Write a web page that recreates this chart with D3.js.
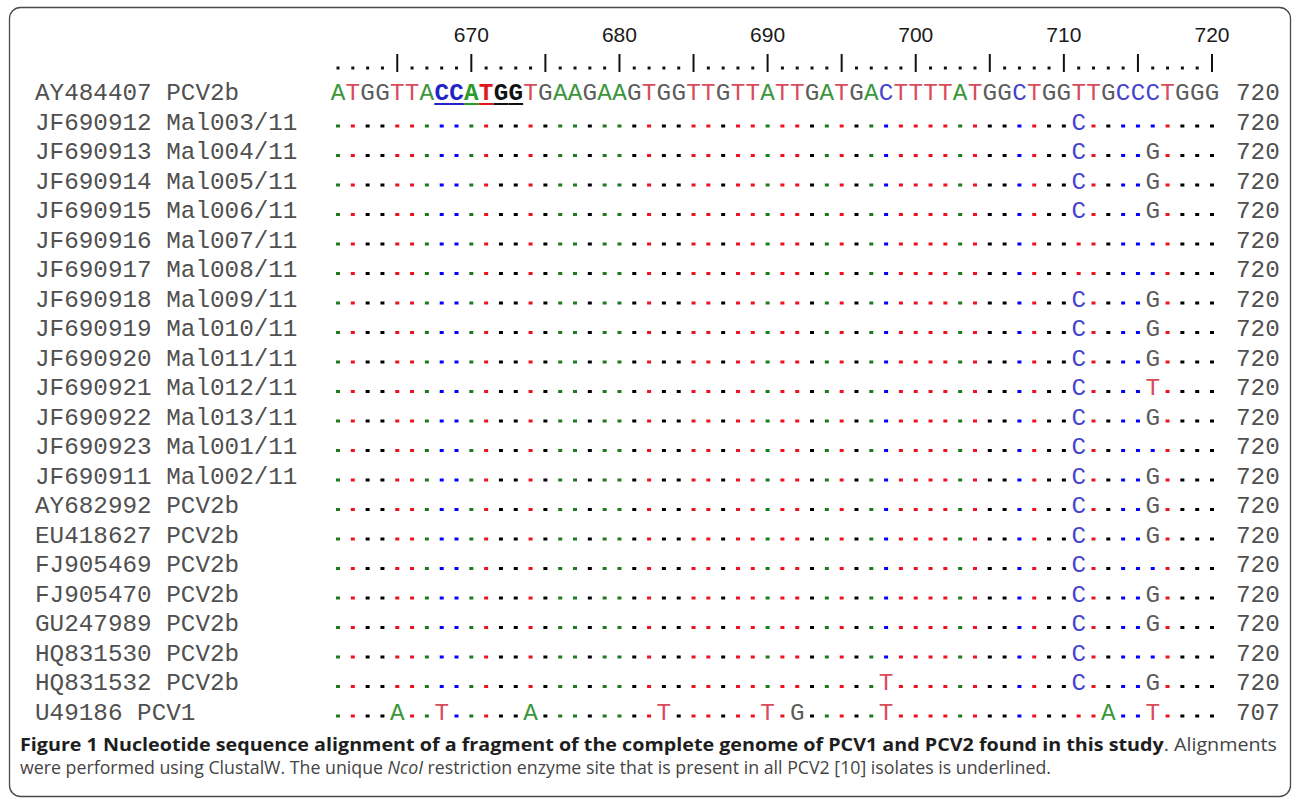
<!DOCTYPE html>
<html>
<head>
<meta charset="utf-8">
<script src="https://cdn.jsdelivr.net/npm/d3@7"></script>
<style>
  body { margin: 0; background: #fff; }
  svg { display: block; }
</style>
</head>
<body>
<div id="chart"></div>
<script>
  var width = 1293;
  var height = 799;

// alignment data
var firstPos = 661;
var lastPos = 720;
var refSeq = "ATGGTTACCATGGTGAAGAAGTGGTTGTTATTGATGACTTTTATGGCTGGTTGCCCTGGG";
var ncoSite = [668, 673]; // CCATGG, underlined

var labels = [
  "AY484407 PCV2b",
  "JF690912 Mal003/11",
  "JF690913 Mal004/11",
  "JF690914 Mal005/11",
  "JF690915 Mal006/11",
  "JF690916 Mal007/11",
  "JF690917 Mal008/11",
  "JF690918 Mal009/11",
  "JF690919 Mal010/11",
  "JF690920 Mal011/11",
  "JF690921 Mal012/11",
  "JF690922 Mal013/11",
  "JF690923 Mal001/11",
  "JF690911 Mal002/11",
  "AY682992 PCV2b",
  "EU418627 PCV2b",
  "FJ905469 PCV2b",
  "FJ905470 PCV2b",
  "GU247989 PCV2b",
  "HQ831530 PCV2b",
  "HQ831532 PCV2b",
  "U49186 PCV1"
];

// substitutions vs. the reference, [position, base]
var variants = [
  [],
  [[711, "C"]],
  [[711, "C"], [716, "G"]],
  [[711, "C"], [716, "G"]],
  [[711, "C"], [716, "G"]],
  [],
  [],
  [[711, "C"], [716, "G"]],
  [[711, "C"], [716, "G"]],
  [[711, "C"], [716, "G"]],
  [[711, "C"], [716, "T"]],
  [[711, "C"], [716, "G"]],
  [[711, "C"]],
  [[711, "C"], [716, "G"]],
  [[711, "C"], [716, "G"]],
  [[711, "C"], [716, "G"]],
  [[711, "C"]],
  [[711, "C"], [716, "G"]],
  [[711, "C"], [716, "G"]],
  [[711, "C"]],
  [[698, "T"], [711, "C"], [716, "G"]],
  [[665, "A"], [668, "T"], [674, "A"], [683, "T"], [690, "T"], [692, "G"], [698, "T"], [713, "A"], [716, "T"]]
];

var endNumbers = [720, 720, 720, 720, 720, 720, 720, 720, 720, 720, 720,
                  720, 720, 720, 720, 720, 720, 720, 720, 720, 720, 707];

var rulerLabels = [670, 680, 690, 700, 710, 720];


var draw_alignment = function(){

  var monoFont = "'Courier New', 'Liberation Mono', monospace";
  var letterColor = {A: "#3b963b", T: "#d94a5a", G: "#5c5c5c", C: "#4444cc"};
  var dotColor = {A: "#1f7a1f", T: "#f01020", G: "#000000", C: "#0000ff"};
  var boldColor = {A: "#2a9a2a", T: "#e01818", G: "#111111", C: "#2323c8"};

  var positions = d3.range(firstPos, lastPos + 1);
  var refBase = function(p){ return refSeq.charAt(p - firstPos); };

  var x = d3.scaleLinear().domain([firstPos, lastPos]).range([338, 1212]);
  // baseline of each row
  var y = d3.scaleLinear().domain([0, labels.length - 1]).range([100, 719.5]);

  var svg = d3.select("#chart").append("svg")
    .attr("width", width)
    .attr("height", height)
    .attr("viewBox", "0 0 " + width + " " + height);

  // frame round the figure
  svg.append("rect")
    .attr("x", 9.5).attr("y", 7.5)
    .attr("width", 1281).attr("height", 789)
    .attr("rx", 11).attr("ry", 11)
    .attr("fill", "none")
    .attr("stroke", "#4a4a4a")
    .attr("stroke-width", 1.3);

  // ruler: dots, bars every 5, numbers every 10
  var ruler = svg.append("g").attr("class", "ruler");
  ruler.selectAll("rect.tickdot")
    .data(positions.filter(function(p){ return p % 5 != 0; }))
    .enter().append("rect")
    .attr("class", "tickdot")
    .attr("x", function(p){ return x(p) - 1.5; })
    .attr("y", 66.5)
    .attr("width", 3).attr("height", 3)
    .attr("fill", "#111");
  ruler.selectAll("line")
    .data(positions.filter(function(p){ return p % 5 == 0; }))
    .enter().append("line")
    .attr("x1", function(p){ return x(p); })
    .attr("x2", function(p){ return x(p); })
    .attr("y1", 54).attr("y2", 72)
    .attr("stroke", "#111")
    .attr("stroke-width", 2);
  ruler.selectAll("text")
    .data(rulerLabels)
    .enter().append("text")
    .attr("x", function(p){ return x(p); })
    .attr("y", 42)
    .attr("text-anchor", "middle")
    .attr("font-family", "Arial, 'Liberation Sans', sans-serif")
    .attr("font-size", "21px")
    .attr("fill", "#1a1a1a")
    .text(function(p){ return p; });

  // sequence names
  svg.append("g").selectAll("text")
    .data(labels)
    .enter().append("text")
    .attr("x", 35)
    .attr("y", function(d, i){ return y(i); })
    .attr("font-family", monoFont)
    .attr("font-size", "24.3px")
    .attr("fill", "#505050")
    .text(function(d){ return d; });

  // end coordinate of each row
  svg.append("g").selectAll("text")
    .data(endNumbers)
    .enter().append("text")
    .attr("x", 1236)
    .attr("y", function(d, i){ return y(i); })
    .attr("font-family", monoFont)
    .attr("font-size", "24.3px")
    .attr("fill", "#505050")
    .text(function(d){ return d; });

  // reference row, full letters
  var inSite = function(p){ return p >= ncoSite[0] && p <= ncoSite[1]; };
  var ref = svg.append("g").attr("class", "ref");
  ref.selectAll("text")
    .data(positions)
    .enter().append("text")
    .attr("x", function(p){ return x(p); })
    .attr("y", y(0))
    .attr("text-anchor", "middle")
    .attr("font-family", monoFont)
    .attr("font-size", "24.3px")
    .attr("font-weight", function(p){ return inSite(p) ? "bold" : "normal"; })
    .attr("fill", function(p){
      var b = refBase(p);
      return inSite(p) ? boldColor[b] : letterColor[b];
    })
    .text(refBase);
  ref.selectAll("rect")
    .data(positions.filter(inSite))
    .enter().append("rect")
    .attr("x", function(p){ return x(p) - 7.4; })
    .attr("y", y(0) + 3)
    .attr("width", 14.8).attr("height", 2)
    .attr("fill", function(p){ return boldColor[refBase(p)]; });

  // other rows: dots where identical, letter where not
  var rows = svg.append("g").selectAll("g.row")
    .data(variants.slice(1))
    .enter().append("g")
    .attr("class", "row")
    .attr("transform", function(d, i){ return "translate(0," + y(i + 1) + ")"; });

  rows.each(function(vars){
    var g = d3.select(this);
    var changed = {};
    vars.forEach(function(v){ changed[v[0]] = v[1]; });

    g.selectAll("rect")
      .data(positions.filter(function(p){ return !changed[p]; }))
      .enter().append("rect")
      .attr("x", function(p){ return x(p) - 2; })
      .attr("y", -5)
      .attr("width", 4).attr("height", 3)
      .attr("fill", function(p){ return dotColor[refBase(p)]; });

    g.selectAll("text")
      .data(vars)
      .enter().append("text")
      .attr("x", function(v){ return x(v[0]); })
      .attr("y", 0)
      .attr("text-anchor", "middle")
      .attr("font-family", monoFont)
      .attr("font-size", "24.3px")
      .attr("fill", function(v){ return letterColor[v[1]]; })
      .text(function(v){ return v[1]; });
  });

  // caption
  var capFont = "'Open Sans', 'Noto Sans', sans-serif";
  var cap1 = svg.append("text")
    .attr("x", 20).attr("y", 751)
    .attr("font-family", capFont)
    .attr("font-size", "17.5px")
    .attr("fill", "#444")
    .attr("textLength", 1257)
    .attr("lengthAdjust", "spacingAndGlyphs");
  cap1.append("tspan")
    .attr("font-weight", "bold")
    .attr("fill", "#1e1e1e")
    .text("Figure 1 Nucleotide sequence alignment of a fragment of the complete genome of PCV1 and PCV2 found in this study");
  cap1.append("tspan").text(". Alignments");

  var cap2 = svg.append("text")
    .attr("x", 20).attr("y", 774)
    .attr("font-family", capFont)
    .attr("font-size", "17.5px")
    .attr("fill", "#444")
    .attr("textLength", 1031)
    .attr("lengthAdjust", "spacingAndGlyphs");
  cap2.append("tspan").text("were performed using ClustalW. The unique ");
  cap2.append("tspan").attr("font-style", "italic").text("NcoI");
  cap2.append("tspan").text(" restriction enzyme site that is present in all PCV2 [10] isolates is underlined.");
};

draw_alignment();
</script>
</body>
</html>
